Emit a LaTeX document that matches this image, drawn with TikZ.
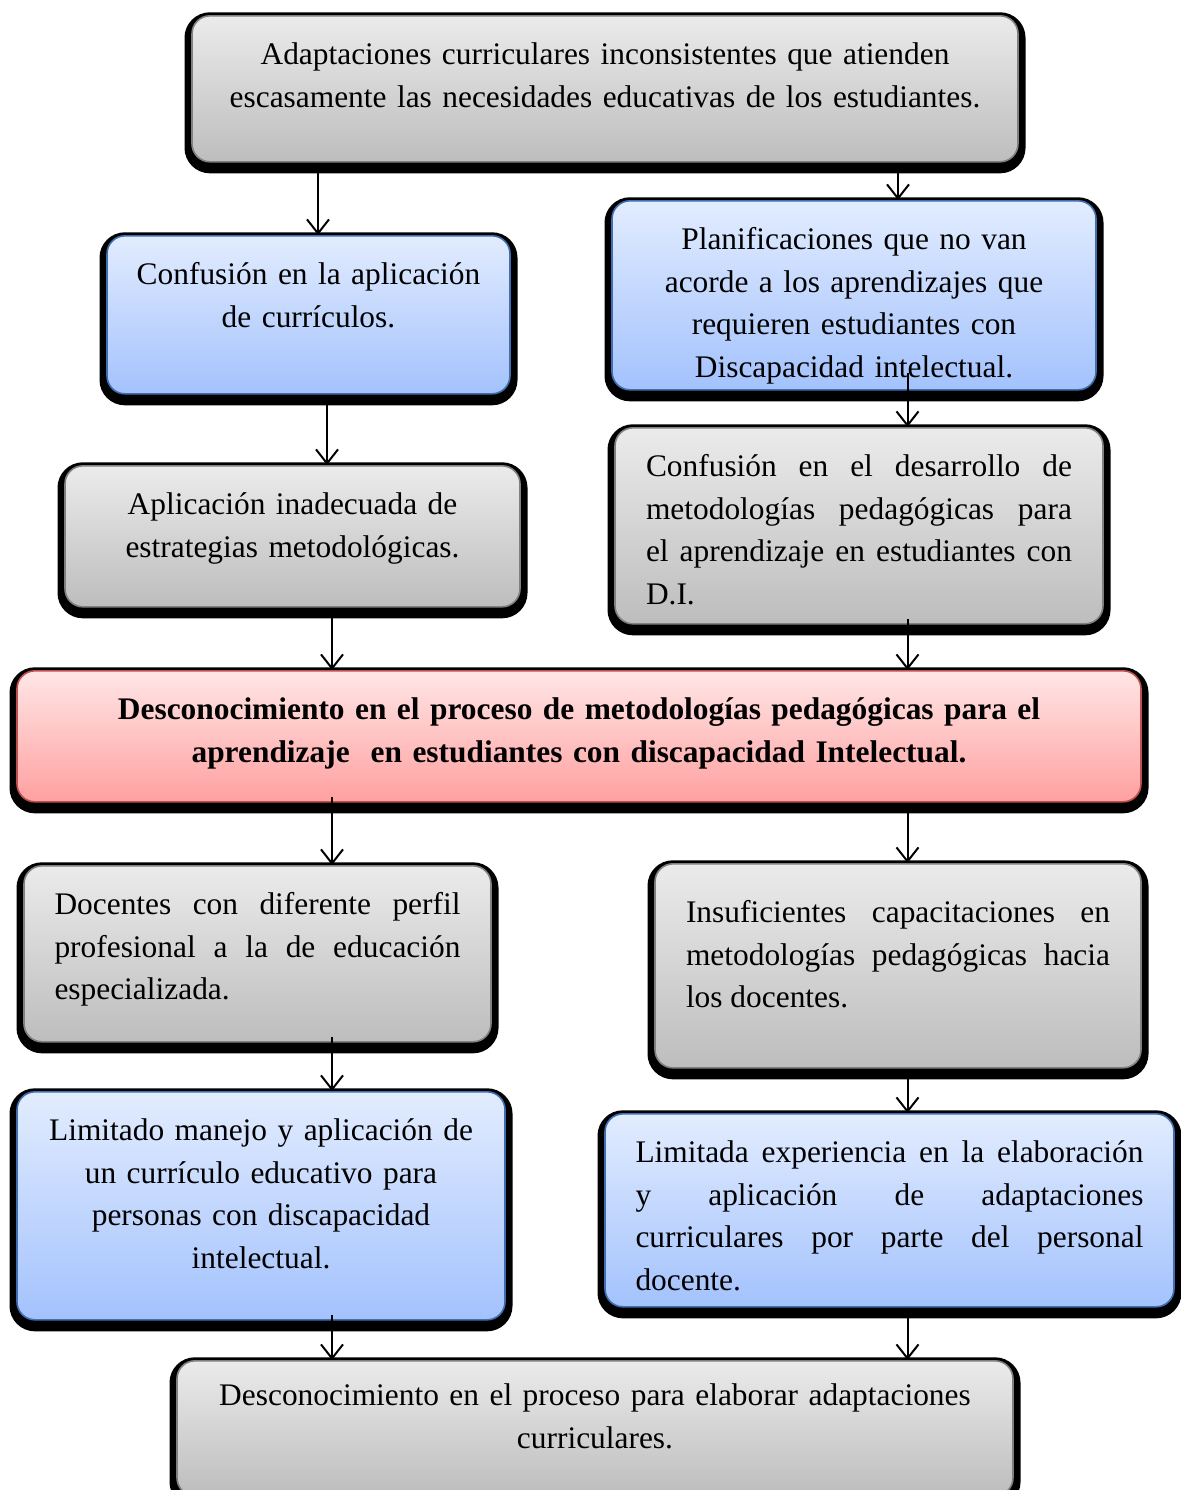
\documentclass[tikz,border=0pt]{standalone}
\usepackage{fontspec}
\setmainfont{Liberation Serif}
\usetikzlibrary{arrows.meta, positioning}
\definecolor{graytop}{HTML}{EBEBEB}
\definecolor{graybot}{HTML}{BDBDBD}
\definecolor{grayline}{HTML}{808080}
\definecolor{bluetop}{HTML}{E2ECFE}
\definecolor{bluebot}{HTML}{A3C2FD}
\definecolor{blueline}{HTML}{3F6FB0}
\definecolor{redtop}{HTML}{FFE6E6}
\definecolor{redbot}{HTML}{FFA0A0}
\definecolor{redline}{HTML}{C0504D}

\begin{document}
\begin{tikzpicture}[
        x=0.5pt, y=-0.5pt,
        font=\fontsize{15.7}{21.2}\selectfont,
        >={Straight Barb[length=7pt,width=11pt]},
        base/.style={rectangle, rounded corners=9pt, anchor=north, inner xsep=0pt, inner ysep=0pt,
            text height=24.5pt, align=center, line width=0.8pt,
            preaction={draw=black, fill=black, line width=7.5pt, transform canvas={yshift=-2pt}}},
        graybox/.style={base, draw=grayline, top color=graytop, bottom color=graybot},
        bluebox/.style={base, draw=blueline, top color=bluetop, bottom color=bluebot},
        redbox/.style={base, draw=redline, top color=redtop, bottom color=redbot,
            font=\fontsize{15.7}{21.2}\selectfont\bfseries},
        arrow/.style={->, line width=1pt}
    ]
    \useasboundingbox (0,0) rectangle (1181,1490);

    % Nodes
    \node[graybox, minimum width=413pt, text width=400pt, text depth=48.5pt] (adapt) at (605,15)
        {Adaptaciones curriculares inconsistentes que atienden\\ escasamente las necesidades educativas de los estudiantes.};
    \node[bluebox, minimum width=201.5pt, text width=190pt, text depth=54.5pt] (confCurr) at (308.5,235)
        {Confusión en la aplicación\\ de currículos.};
    \node[bluebox, minimum width=242pt, text width=230pt, text depth=70pt] (planif) at (854,200)
        {Planificaciones que no van\\ acorde a los aprendizajes que\\ requieren estudiantes con\\ Discapacidad intelectual.};
    \node[graybox, minimum width=227.5pt, text width=215pt, text depth=46pt] (aplic) at (292.5,465)
        {Aplicación inadecuada de\\ estrategias metodológicas.};
    \node[graybox, align=justify, minimum width=244pt, text width=213pt, text depth=73.5pt] (confMet) at (859,427)
        {Confusión en el desarrollo de\linebreak metodologías pedagógicas para\linebreak el aprendizaje en estudiantes con\linebreak D.I.};
    \node[redbox, minimum width=562pt, text width=480pt, text depth=41pt] (desc) at (579,670)
        {Desconocimiento en el proceso de metodologías pedagógicas para el\\ aprendizaje~ en estudiantes con discapacidad Intelectual.};
    \node[graybox, align=justify, minimum width=233.5pt, text width=203pt, text depth=63.5pt] (docentes) at (257.5,865)
        {Docentes con diferente perfil\linebreak profesional a la de educación\linebreak especializada.};
    \node[graybox, align=justify, minimum width=243pt, text width=212pt, text height=29.5pt, text depth=72.5pt] (capac) at (898,863)
        {Insuficientes capacitaciones en\linebreak metodologías pedagógicas hacia\linebreak los docentes.};
    \node[bluebox, minimum width=244pt, text width=230pt, text depth=89.5pt] (limMan) at (261,1091)
        {Limitado manejo y aplicación de\\ un currículo educativo para\\ personas con discapacidad\\ intelectual.};
    \node[bluebox, align=justify, minimum width=284.5pt, text width=254pt, text depth=72pt] (limExp) at (889.5,1113)
        {Limitada experiencia en la elaboración\linebreak y aplicación de adaptaciones\linebreak curriculares por parte del personal\linebreak docente.};
    \node[graybox, minimum width=418pt, text width=400pt, text height=22.5pt, text depth=45pt] (descAdapt) at (595,1360)
        {Desconocimiento en el proceso para elaborar adaptaciones\\ curriculares.};

    % Arrow columns
    \coordinate (colA) at (318,0);
    \coordinate (colB) at (327,0);
    \coordinate (colC) at (332,0);
    \coordinate (colD) at (898,0);
    \coordinate (colE) at (907.5,0);

    % Arrows
    \draw[arrow] (adapt.south -| colA) -- (confCurr.north -| colA);
    \draw[arrow] (adapt.south -| colD) -- (planif.north -| colD);
    \draw[arrow] (confCurr.south -| colB) -- (aplic.north -| colB);
    \draw[arrow] (planif.south -| colE) ++(0,-18) -- (confMet.north -| colE);
    \draw[arrow] (aplic.south -| colC) -- (desc.north -| colC);
    \draw[arrow] (confMet.south -| colE) ++(0,-6) -- (desc.north -| colE);
    \draw[arrow] (desc.south -| colC) ++(0,-6) -- (docentes.north -| colC);
    \draw[arrow] (desc.south -| colE) -- (capac.north -| colE);
    \draw[arrow] (docentes.south -| colC) ++(0,-6) -- (limMan.north -| colC);
    \draw[arrow] (capac.south -| colE) -- (limExp.north -| colE);
    \draw[arrow] (limMan.south -| colC) ++(0,-6) -- (descAdapt.north -| colC);
    \draw[arrow] (limExp.south -| colE) -- (descAdapt.north -| colE);

    \end{tikzpicture}
\end{document}
